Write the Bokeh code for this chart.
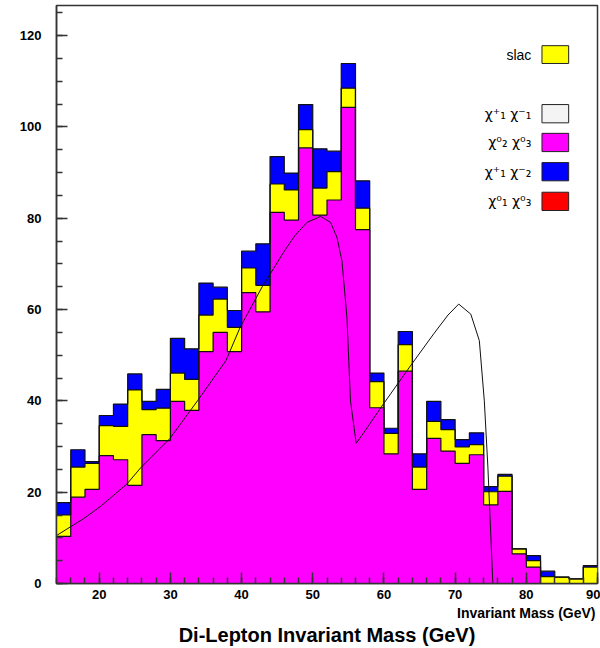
import numpy as np
from bokeh.plotting import figure
from bokeh.models import Range1d, Label, BoxAnnotation, SingleIntervalTicker, Title
from bokeh.embed import file_html
from bokeh.resources import INLINE

# ---- data ----
bin_lo = list(range(14, 90, 2))          # 2 GeV bins, 14..90
bin_edges = bin_lo + [90]

chi02_chi03 = [10.3, 18.9, 20.6, 28.0, 27.1, 21.5, 32.6, 31.3, 39.9, 37.9,
               50.8, 55.0, 50.8, 63.7, 59.5, 81.3, 79.6, 95.4, 80.7, 84.0,
               104.3, 77.5, 38.5, 28.4, 46.5, 20.6, 31.8, 29.0, 26.3, 28.2,
               17.2, 20.2, 6.5, 3.6, 0.0, 0.0, 0.0, 0.0]
slac = [4.7, 6.6, 5.7, 6.6, 7.3, 20.9, 5.5, 7.1, 6.2, 6.8,
        8.0, 7.3, 5.3, 5.4, 5.8, 6.2, 6.6, 4.0, 5.9, 6.2,
        4.2, 4.7, 5.7, 4.5, 5.8, 4.9, 3.7, 4.7, 3.6, 2.2,
        2.9, 3.3, 1.1, 1.4, 1.5, 1.4, 1.0, 3.6]
chi1p_chi2m = [2.7, 3.8, 0.4, 2.2, 4.9, 3.5, 1.8, 4.1, 7.6, 6.7,
               7.0, 2.6, 3.7, 3.7, 9.1, 6.0, 3.7, 5.5, 8.6, 4.5,
               5.4, 6.0, 1.9, 1.1, 2.9, 2.9, 4.4, 2.2, 1.6, 2.6,
               1.1, 0.4, 0.0, 1.1, 1.2, 0.0, 0.0, 0.3]
chi01_chi03 = [0.0] * 38

# chi+1 chi-1 curve
curve_mass = [14.0, 17.8, 20.2, 23.9, 25.8, 29.9, 33.8, 37.8, 39.8, 42.9,
              44.5, 46.0, 47.5, 49.2, 51.1, 52.5, 53.4, 54.1, 54.8, 55.3, 56.1,
              57.2, 59.6, 63.6, 67.0, 69.0, 70.5, 72.2, 73.4, 74.1, 74.6, 75.0, 75.3]
curve_val = [10.5, 14.2, 16.9, 21.8, 25.3, 31.7, 40.0, 48.8, 56.1, 65.0,
             69.0, 72.8, 76.2, 79.1, 80.4, 79.1, 75.8, 70.7, 58.3, 40.0, 30.7,
             33.1, 38.6, 47.4, 54.7, 58.8, 61.2, 59.0, 53.2, 40.0, 25.5, 10.9, 0.0]

legend_labels = ["χ⁺₁ χ⁻₁", "χ⁰₂ χ⁰₃", "χ⁺₁ χ⁻₂", "χ⁰₁ χ⁰₃"]
legend_colors = ["#F4F4F4", "#FF00FF", "#0000FF", "#FF0000"]

# ---- cumulative stacks ----
mag = np.array(chi02_chi03)
yel = mag + np.array(slac)
tot = yel + np.array(chi1p_chi2m) + np.array(chi01_chi03)

p = figure(width=600, height=648, x_range=Range1d(14, 90), y_range=Range1d(0, 126.6),
           output_backend="svg", toolbar_location=None, title=None,
           min_border_left=56, min_border_right=3, min_border_top=5, min_border_bottom=65)
p.xgrid.visible = False
p.ygrid.visible = False
p.background_fill_color = "white"
p.border_fill_color = "white"
p.outline_line_color = "#333333"
p.outline_line_width = 1.5

# fills (step areas) and outlines
for h, col in ((tot, "#0000FF"), (yel, "#FFFF00"), (mag, "#FF00FF")):
    ys = list(h) + [h[-1]]
    p.varea_step(x=bin_edges, y1=[0] * len(ys), y2=ys, step_mode="after", fill_color=col)
for h in (tot, yel, mag):
    ys = list(h) + [h[-1]]
    p.step(bin_edges, ys, mode="after", line_color="#111111", line_width=1.2)

# curve
p.line(curve_mass, curve_val, line_color="#111111", line_width=1)

# axes
for ax in (p.xaxis[0], p.yaxis[0]):
    ax.major_tick_in = 11
    ax.major_tick_out = 0
    ax.minor_tick_in = 6
    ax.minor_tick_out = 0
    ax.axis_line_color = "#333333"
    ax.axis_line_width = 1.5
    ax.major_tick_line_color = "#333333"
    ax.major_tick_line_width = 1.5
    ax.minor_tick_line_color = "#333333"
    ax.minor_tick_line_width = 1.5
    ax.major_label_text_font = "Liberation Sans"
    ax.major_label_text_font_style = "bold"
    ax.major_label_text_font_size = "13px"
    ax.major_label_text_color = "black"
p.xaxis[0].ticker = SingleIntervalTicker(interval=10, num_minor_ticks=5)
p.yaxis[0].ticker = SingleIntervalTicker(interval=20, num_minor_ticks=4)
p.xaxis[0].major_label_standoff = 6
p.yaxis[0].major_label_standoff = 15

# legend (manual, text left of box)
lx_text = 80.7
box_l, box_r = 82.2, 85.95
p.add_layout(BoxAnnotation(left=box_l, right=box_r, bottom=113.9, top=117.8,
                           fill_color="#FFFF00", fill_alpha=1, line_color="#222222",
                           line_alpha=1, line_width=1))
p.add_layout(Label(x=lx_text, y=115.8, text="slac", text_align="right", text_baseline="middle",
                   text_font="Liberation Sans", text_font_size="14px", text_color="black"))
centers = [102.9, 96.6, 90.2, 83.7]
for lab, col, c in zip(legend_labels, legend_colors, centers):
    p.add_layout(BoxAnnotation(left=box_l, right=box_r, bottom=c - 2.0, top=c + 2.0,
                               fill_color=col, fill_alpha=1, line_color="#222222",
                               line_alpha=1, line_width=1))
    p.add_layout(Label(x=lx_text, y=c, text=lab, text_align="right", text_baseline="middle",
                       text_font="DejaVu Sans", text_font_size="14px", text_color="black"))

# x-axis label (right aligned) and main title below the axis
p.add_layout(Title(text="Invariant Mass (GeV)", align="right", text_font="Liberation Sans",
                   text_font_size="14px", text_font_style="bold", text_color="black",
                   standoff=3, offset=2), "below")
p.add_layout(Title(text="Di-Lepton Invariant Mass (GeV)", align="center", text_font="Liberation Sans",
                   text_font_size="20px", text_font_style="bold", text_color="black",
                   standoff=-1), "below")

open("out.html", "w").write(file_html(p, INLINE))
